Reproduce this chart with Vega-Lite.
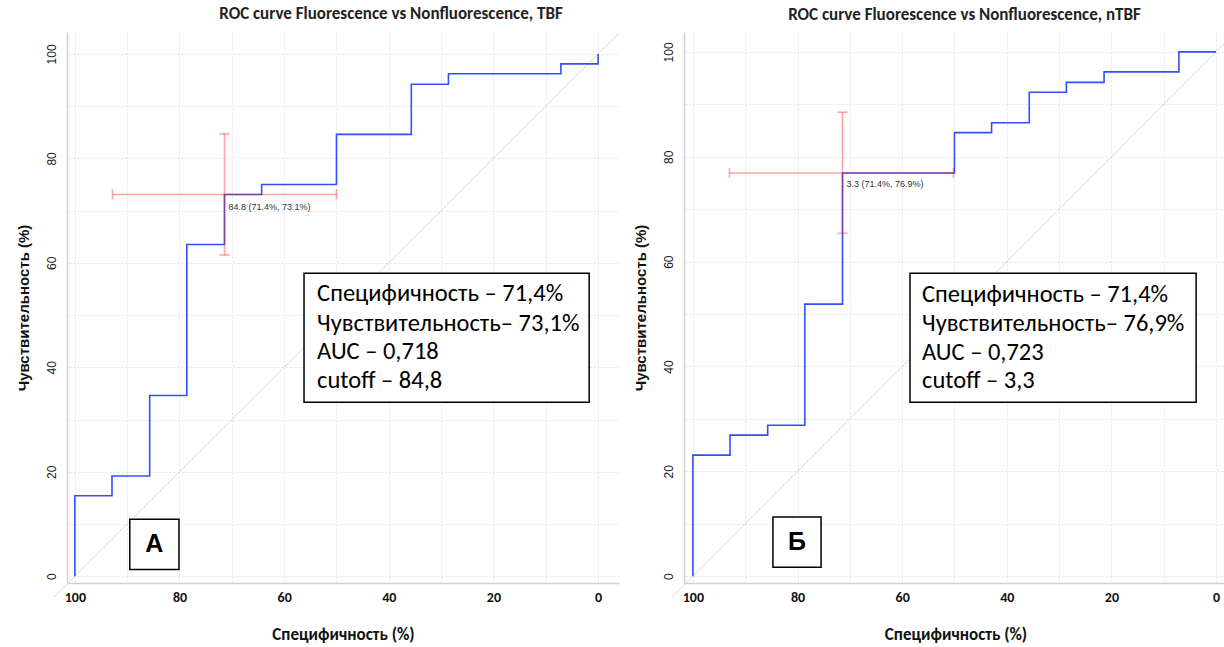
{
  "$schema": "https://vega.github.io/schema/vega-lite/v6.json",
  "padding": {"left": 15, "top": 5, "right": 0, "bottom": 6},
  "background": "white",
  "spacing": 65,
  "bounds": "flush",
  "datasets": {
    "rocA": [
      {"i": 0, "spec": 100, "sens": 0}, {"i": 1, "spec": 100, "sens": 15.4}, {"i": 2, "spec": 92.9, "sens": 15.4}, {"i": 3, "spec": 92.9, "sens": 19.2},
      {"i": 4, "spec": 85.7, "sens": 19.2}, {"i": 5, "spec": 85.7, "sens": 34.6}, {"i": 6, "spec": 78.6, "sens": 34.6}, {"i": 7, "spec": 78.6, "sens": 63.5},
      {"i": 8, "spec": 71.4, "sens": 63.5}, {"i": 9, "spec": 71.4, "sens": 73.1}, {"i": 10, "spec": 64.3, "sens": 73.1}, {"i": 11, "spec": 64.3, "sens": 75},
      {"i": 12, "spec": 50, "sens": 75}, {"i": 13, "spec": 50, "sens": 84.6}, {"i": 14, "spec": 35.7, "sens": 84.6}, {"i": 15, "spec": 35.7, "sens": 94.2},
      {"i": 16, "spec": 28.6, "sens": 94.2}, {"i": 17, "spec": 28.6, "sens": 96.2}, {"i": 18, "spec": 7.1, "sens": 96.2}, {"i": 19, "spec": 7.1, "sens": 98.1},
      {"i": 20, "spec": 0, "sens": 98.1}, {"i": 21, "spec": 0, "sens": 100}
    ],
    "rocB": [
      {"i": 0, "spec": 100, "sens": 0}, {"i": 1, "spec": 100, "sens": 23.1}, {"i": 2, "spec": 92.9, "sens": 23.1}, {"i": 3, "spec": 92.9, "sens": 26.9},
      {"i": 4, "spec": 85.7, "sens": 26.9}, {"i": 5, "spec": 85.7, "sens": 28.8}, {"i": 6, "spec": 78.6, "sens": 28.8}, {"i": 7, "spec": 78.6, "sens": 51.9},
      {"i": 8, "spec": 71.4, "sens": 51.9}, {"i": 9, "spec": 71.4, "sens": 76.9}, {"i": 10, "spec": 50, "sens": 76.9}, {"i": 11, "spec": 50, "sens": 84.6},
      {"i": 12, "spec": 42.9, "sens": 84.6}, {"i": 13, "spec": 42.9, "sens": 86.5}, {"i": 14, "spec": 35.7, "sens": 86.5}, {"i": 15, "spec": 35.7, "sens": 92.3},
      {"i": 16, "spec": 28.6, "sens": 92.3}, {"i": 17, "spec": 28.6, "sens": 94.2}, {"i": 18, "spec": 21.4, "sens": 94.2}, {"i": 19, "spec": 21.4, "sens": 96.2},
      {"i": 20, "spec": 7.1, "sens": 96.2}, {"i": 21, "spec": 7.1, "sens": 100}, {"i": 22, "spec": 0, "sens": 100}
    ],
    "diagA": [{"i": 0, "spec": 104, "sens": -4}, {"i": 1, "spec": -4, "sens": 104}],
    "diagB": [{"i": 0, "spec": 104, "sens": -4}, {"i": 1, "spec": -2.1, "sens": 102.1}],
    "errA": [{"spec": 71.4, "sens": 73.1, "specLo": 50, "specHi": 92.8, "sensLo": 61.5, "sensHi": 84.7, "label": "84.8 (71.4%, 73.1%)"}],
    "errB": [{"spec": 71.4, "sens": 76.9, "specLo": 50.2, "specHi": 93, "sensLo": 65.4, "sensHi": 88.5, "label": "3.3 (71.4%, 76.9%)"}],
    "boxA": [{"x1": 56.2, "x2": 1.7, "y1": 58.0, "y2": 33.3}],
    "boxB": [{"x1": 58.5, "x2": 3.8, "y1": 57.8, "y2": 33.2}],
    "linesA": [
      {"spec": 53.7, "sens": 54.0, "t": "Специфичность – 71,4%"},
      {"spec": 53.7, "sens": 48.3, "t": "Чувствительность– 73,1%"},
      {"spec": 53.7, "sens": 42.9, "t": "AUC – 0,718"},
      {"spec": 53.7, "sens": 37.4, "t": "cutoff – 84,8"}
    ],
    "linesB": [
      {"spec": 56.2, "sens": 53.6, "t": "Специфичность – 71,4%"},
      {"spec": 56.2, "sens": 48.1, "t": "Чувствительность– 76,9%"},
      {"spec": 56.2, "sens": 42.6, "t": "AUC – 0,723"},
      {"spec": 56.2, "sens": 37.2, "t": "cutoff – 3,3"}
    ],
    "tagA": [{"x1": 89.5, "x2": 80.1, "y1": 10.9, "y2": 1.3, "cx": 84.8, "cy": 6.1, "t": "А"}],
    "tagB": [{"x1": 84.7, "x2": 75.5, "y1": 11.3, "y2": 1.7, "cx": 80.1, "cy": 6.5, "t": "Б"}]
  },
  "hconcat": [
    {
      "width": 552,
      "height": 551,
      "title": {"text": "ROC curve Fluorescence vs Nonfluorescence, TBF", "dx": 48},
      "layer": [
        {
          "data": {"name": "diagA"},
          "mark": {"type": "line", "color": "#d9d9d9", "strokeWidth": 1, "clip": false},
          "encoding": {
            "x": {"field": "spec", "type": "quantitative", "title": "Специфичность (%)", "scale": {"domain": [-4, 101.5], "reverse": true, "nice": false, "zero": false}},
            "y": {"field": "sens", "type": "quantitative", "title": "Чувствительность (%)", "scale": {"domain": [-1.3, 104.2], "nice": false, "zero": false}},
            "order": {"field": "i"}
          }
        },
        {
          "data": {"name": "rocA"},
          "mark": {"type": "line", "color": "#3050ff", "strokeWidth": 1.6},
          "encoding": {
            "x": {"field": "spec", "type": "quantitative", "title": "Специфичность (%)", "scale": {"domain": [-4, 101.5], "reverse": true, "nice": false, "zero": false}},
            "y": {"field": "sens", "type": "quantitative", "title": "Чувствительность (%)", "scale": {"domain": [-1.3, 104.2], "nice": false, "zero": false}},
            "order": {"field": "i"}
          }
        },
        {
          "data": {"name": "errA"},
          "mark": {"type": "rule", "color": "#ff2020", "opacity": 0.4, "strokeWidth": 1.6},
          "encoding": {
            "x": {"field": "specLo", "type": "quantitative", "title": "Специфичность (%)"},
            "x2": {"field": "specHi"},
            "y": {"field": "sens", "type": "quantitative", "title": "Чувствительность (%)"}
          }
        },
        {
          "data": {"name": "errA"},
          "mark": {"type": "rule", "color": "#ff2020", "opacity": 0.4, "strokeWidth": 1.6},
          "encoding": {
            "x": {"field": "spec", "type": "quantitative", "title": "Специфичность (%)"},
            "y": {"field": "sensLo", "type": "quantitative", "title": "Чувствительность (%)"},
            "y2": {"field": "sensHi"}
          }
        },
        {
          "data": {"name": "errA"},
          "mark": {"type": "tick", "orient": "vertical", "color": "#ff2020", "opacity": 0.4, "size": 10, "thickness": 1.6},
          "encoding": {
            "x": {"field": "specLo", "type": "quantitative", "title": "Специфичность (%)"},
            "y": {"field": "sens", "type": "quantitative", "title": "Чувствительность (%)"}
          }
        },
        {
          "data": {"name": "errA"},
          "mark": {"type": "tick", "orient": "vertical", "color": "#ff2020", "opacity": 0.4, "size": 10, "thickness": 1.6},
          "encoding": {
            "x": {"field": "specHi", "type": "quantitative", "title": "Специфичность (%)"},
            "y": {"field": "sens", "type": "quantitative", "title": "Чувствительность (%)"}
          }
        },
        {
          "data": {"name": "errA"},
          "mark": {"type": "tick", "orient": "horizontal", "color": "#ff2020", "opacity": 0.4, "size": 10, "thickness": 1.6},
          "encoding": {
            "x": {"field": "spec", "type": "quantitative", "title": "Специфичность (%)"},
            "y": {"field": "sensLo", "type": "quantitative", "title": "Чувствительность (%)"}
          }
        },
        {
          "data": {"name": "errA"},
          "mark": {"type": "tick", "orient": "horizontal", "color": "#ff2020", "opacity": 0.4, "size": 10, "thickness": 1.6},
          "encoding": {
            "x": {"field": "spec", "type": "quantitative", "title": "Специфичность (%)"},
            "y": {"field": "sensHi", "type": "quantitative", "title": "Чувствительность (%)"}
          }
        },
        {
          "data": {"name": "errA"},
          "mark": {"type": "text", "align": "left", "baseline": "middle", "dx": 4, "dy": 13, "fontSize": 9, "font": "Liberation Sans", "color": "#333333"},
          "encoding": {
            "x": {"field": "spec", "type": "quantitative", "title": "Специфичность (%)"},
            "y": {"field": "sens", "type": "quantitative", "title": "Чувствительность (%)"},
            "text": {"field": "label"}
          }
        },
        {
          "data": {"name": "boxA"},
          "mark": {"type": "rect", "fill": "white", "stroke": "black", "strokeWidth": 1.5},
          "encoding": {
            "x": {"field": "x1", "type": "quantitative", "title": "Специфичность (%)"},
            "x2": {"field": "x2"},
            "y": {"field": "y1", "type": "quantitative", "title": "Чувствительность (%)"},
            "y2": {"field": "y2"}
          }
        },
        {
          "data": {"name": "linesA"},
          "mark": {"type": "text", "align": "left", "baseline": "middle", "fontSize": 24.5, "font": "Carlito, Lato, sans-serif", "color": "black"},
          "encoding": {
            "x": {"field": "spec", "type": "quantitative", "title": "Специфичность (%)"},
            "y": {"field": "sens", "type": "quantitative", "title": "Чувствительность (%)"},
            "text": {"field": "t"}
          }
        },
        {
          "data": {"name": "tagA"},
          "mark": {"type": "rect", "fill": "white", "stroke": "black", "strokeWidth": 1.5},
          "encoding": {
            "x": {"field": "x1", "type": "quantitative", "title": "Специфичность (%)"},
            "x2": {"field": "x2"},
            "y": {"field": "y1", "type": "quantitative", "title": "Чувствительность (%)"},
            "y2": {"field": "y2"}
          }
        },
        {
          "data": {"name": "tagA"},
          "mark": {"type": "text", "align": "center", "baseline": "middle", "fontSize": 25, "fontWeight": "bold", "font": "Liberation Sans", "color": "black"},
          "encoding": {
            "x": {"field": "cx", "type": "quantitative", "title": "Специфичность (%)"},
            "y": {"field": "cy", "type": "quantitative", "title": "Чувствительность (%)"},
            "text": {"field": "t"}
          }
        }
      ]
    },
    {
      "width": 543,
      "height": 551,
      "title": {"text": "ROC curve Fluorescence vs Nonfluorescence, nTBF", "dx": 9},
      "layer": [
        {
          "data": {"name": "diagB"},
          "mark": {"type": "line", "color": "#d9d9d9", "strokeWidth": 1, "clip": false},
          "encoding": {
            "x": {"field": "spec", "type": "quantitative", "title": "Специфичность (%)", "scale": {"domain": [-2.1, 101.7], "reverse": true, "nice": false, "zero": false}},
            "y": {"field": "sens", "type": "quantitative", "title": "Чувствительность (%)", "scale": {"domain": [-1.3, 103.8], "nice": false, "zero": false}},
            "order": {"field": "i"}
          }
        },
        {
          "data": {"name": "rocB"},
          "mark": {"type": "line", "color": "#3050ff", "strokeWidth": 1.6},
          "encoding": {
            "x": {"field": "spec", "type": "quantitative", "title": "Специфичность (%)", "scale": {"domain": [-2.1, 101.7], "reverse": true, "nice": false, "zero": false}},
            "y": {"field": "sens", "type": "quantitative", "title": "Чувствительность (%)", "scale": {"domain": [-1.3, 103.8], "nice": false, "zero": false}},
            "order": {"field": "i"}
          }
        },
        {
          "data": {"name": "errB"},
          "mark": {"type": "rule", "color": "#ff2020", "opacity": 0.4, "strokeWidth": 1.6},
          "encoding": {
            "x": {"field": "specLo", "type": "quantitative", "title": "Специфичность (%)"},
            "x2": {"field": "specHi"},
            "y": {"field": "sens", "type": "quantitative", "title": "Чувствительность (%)"}
          }
        },
        {
          "data": {"name": "errB"},
          "mark": {"type": "rule", "color": "#ff2020", "opacity": 0.4, "strokeWidth": 1.6},
          "encoding": {
            "x": {"field": "spec", "type": "quantitative", "title": "Специфичность (%)"},
            "y": {"field": "sensLo", "type": "quantitative", "title": "Чувствительность (%)"},
            "y2": {"field": "sensHi"}
          }
        },
        {
          "data": {"name": "errB"},
          "mark": {"type": "tick", "orient": "vertical", "color": "#ff2020", "opacity": 0.4, "size": 10, "thickness": 1.6},
          "encoding": {
            "x": {"field": "specLo", "type": "quantitative", "title": "Специфичность (%)"},
            "y": {"field": "sens", "type": "quantitative", "title": "Чувствительность (%)"}
          }
        },
        {
          "data": {"name": "errB"},
          "mark": {"type": "tick", "orient": "vertical", "color": "#ff2020", "opacity": 0.4, "size": 10, "thickness": 1.6},
          "encoding": {
            "x": {"field": "specHi", "type": "quantitative", "title": "Специфичность (%)"},
            "y": {"field": "sens", "type": "quantitative", "title": "Чувствительность (%)"}
          }
        },
        {
          "data": {"name": "errB"},
          "mark": {"type": "tick", "orient": "horizontal", "color": "#ff2020", "opacity": 0.4, "size": 10, "thickness": 1.6},
          "encoding": {
            "x": {"field": "spec", "type": "quantitative", "title": "Специфичность (%)"},
            "y": {"field": "sensLo", "type": "quantitative", "title": "Чувствительность (%)"}
          }
        },
        {
          "data": {"name": "errB"},
          "mark": {"type": "tick", "orient": "horizontal", "color": "#ff2020", "opacity": 0.4, "size": 10, "thickness": 1.6},
          "encoding": {
            "x": {"field": "spec", "type": "quantitative", "title": "Специфичность (%)"},
            "y": {"field": "sensHi", "type": "quantitative", "title": "Чувствительность (%)"}
          }
        },
        {
          "data": {"name": "errB"},
          "mark": {"type": "text", "align": "left", "baseline": "middle", "dx": 4, "dy": 11, "fontSize": 9, "font": "Liberation Sans", "color": "#333333"},
          "encoding": {
            "x": {"field": "spec", "type": "quantitative", "title": "Специфичность (%)"},
            "y": {"field": "sens", "type": "quantitative", "title": "Чувствительность (%)"},
            "text": {"field": "label"}
          }
        },
        {
          "data": {"name": "boxB"},
          "mark": {"type": "rect", "fill": "white", "stroke": "black", "strokeWidth": 1.5},
          "encoding": {
            "x": {"field": "x1", "type": "quantitative", "title": "Специфичность (%)"},
            "x2": {"field": "x2"},
            "y": {"field": "y1", "type": "quantitative", "title": "Чувствительность (%)"},
            "y2": {"field": "y2"}
          }
        },
        {
          "data": {"name": "linesB"},
          "mark": {"type": "text", "align": "left", "baseline": "middle", "fontSize": 24.5, "font": "Carlito, Lato, sans-serif", "color": "black"},
          "encoding": {
            "x": {"field": "spec", "type": "quantitative", "title": "Специфичность (%)"},
            "y": {"field": "sens", "type": "quantitative", "title": "Чувствительность (%)"},
            "text": {"field": "t"}
          }
        },
        {
          "data": {"name": "tagB"},
          "mark": {"type": "rect", "fill": "white", "stroke": "black", "strokeWidth": 1.5},
          "encoding": {
            "x": {"field": "x1", "type": "quantitative", "title": "Специфичность (%)"},
            "x2": {"field": "x2"},
            "y": {"field": "y1", "type": "quantitative", "title": "Чувствительность (%)"},
            "y2": {"field": "y2"}
          }
        },
        {
          "data": {"name": "tagB"},
          "mark": {"type": "text", "align": "center", "baseline": "middle", "fontSize": 25, "fontWeight": "bold", "font": "Liberation Sans", "color": "black"},
          "encoding": {
            "x": {"field": "cx", "type": "quantitative", "title": "Специфичность (%)"},
            "y": {"field": "cy", "type": "quantitative", "title": "Чувствительность (%)"},
            "text": {"field": "t"}
          }
        }
      ]
    }
  ],
  "config": {
    "view": {"stroke": null},
    "title": {"font": "Carlito, Lato, sans-serif", "fontSize": 17, "fontWeight": "bold", "color": "#222222", "anchor": "middle", "offset": 8},
    "axisX": {
      "values": [0, 10, 20, 30, 40, 50, 60, 70, 80, 90, 100],
      "labelExpr": "datum.value % 20 === 0 ? datum.label : ''",
      "grid": true, "gridColor": "#e3e3e3", "gridDash": [2, 2], "gridWidth": 1,
      "domain": true, "domainColor": "#d0d0d0", "domainWidth": 1.5,
      "ticks": false, "labelFlush": false, "labelOverlap": false,
      "labelFont": "Carlito, Lato, sans-serif", "labelFontSize": 14, "labelFontWeight": "bold", "labelColor": "#111111", "labelPadding": 7,
      "titleFont": "Carlito, Lato, sans-serif", "titleFontSize": 17, "titleFontWeight": "bold", "titleColor": "#111111", "titlePadding": 22
    },
    "axisY": {
      "values": [0, 10, 20, 30, 40, 50, 60, 70, 80, 90, 100],
      "labelExpr": "datum.value % 20 === 0 ? datum.label : ''",
      "grid": true, "gridColor": "#e3e3e3", "gridDash": [2, 2], "gridWidth": 1,
      "domain": true, "domainColor": "#d0d0d0", "domainWidth": 1.5,
      "ticks": false, "labelFlush": false, "labelOverlap": false,
      "labelAngle": -90, "labelAlign": "center", "labelBaseline": "bottom",
      "labelFont": "Liberation Sans", "labelFontSize": 12, "labelColor": "#222222", "labelPadding": 9,
      "titleFont": "Liberation Sans", "titleFontSize": 15, "titleFontWeight": "bold", "titleColor": "#111111", "titlePadding": 14
    }
  }
}
